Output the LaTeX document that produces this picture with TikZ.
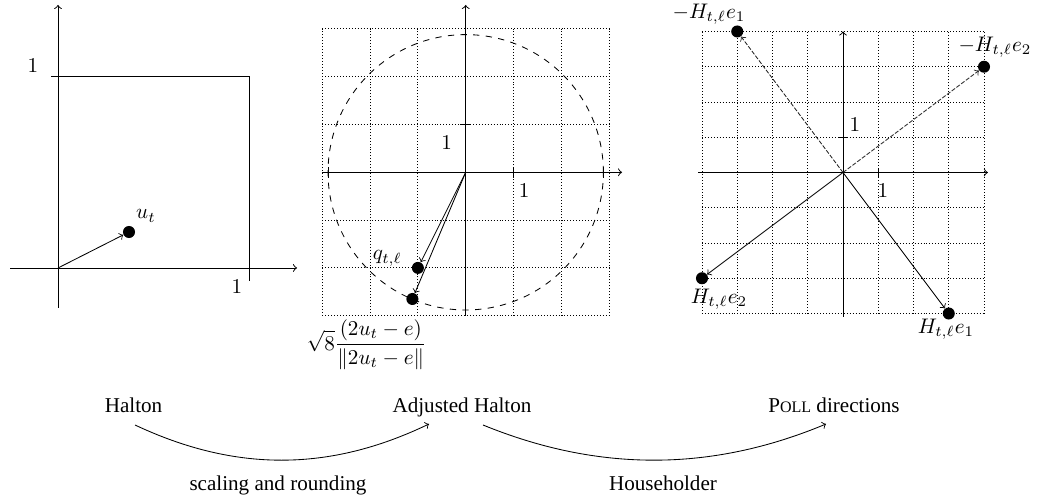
\documentclass[tikz,border=0pt]{standalone}
\usepackage[no-math]{fontspec}
\setmainfont{Liberation Serif}
\begin{document}
\begin{tikzpicture}[x=0.474pt,y=-0.474pt,
  dot/.style={circle,fill=black,inner sep=0pt,minimum size=5.7pt},
  axis/.style={->,line width=0.45pt},
  grd/.style={densely dotted,line width=0.4pt},
  lbl/.style={inner sep=0pt},
  vec/.style={->,line width=0.4pt},
  negvec/.style={->,line width=0.4pt,dash pattern=on 2pt off 0.8pt,black!85},
  txt/.style={inner sep=0pt,anchor=base}]
\useasboundingbox (0,0) rectangle (1041,500);

% ---------- left panel ----------
\coordinate (O1) at (58,268);
\draw[axis] (58,308) -- (58,5);
\draw[axis] (10,268) -- (297,268);
\draw (51,76) -- (249,76) -- (249,281);
\node[lbl] (l1y) at (33,66) {$1$};
\node[lbl] (l1x) at (237,287) {$1$};
\node[dot] (ut) at (129,232) {};
\node[lbl] (utl) at (146,216) {$u_t$};
\draw[vec] (O1) -- (ut);

% ---------- middle panel ----------
\coordinate (C2) at (465.7,172.3);
\begin{scope}[shift={(C2)},x=22.66pt,y=22.66pt]
  \coordinate (O2) at (0,0);
  \draw[grd,step=22.66pt] (-3,-3) grid (3,3);
  \draw[dashed,line width=0.4pt] (0,0) circle (2.88);
  \draw[axis] (-3,0) -- (3.27,0);
  \draw[axis] (0,-2.98) -- (0,3.5);
  \draw (1,-0.11) -- (1,0.11);
  \draw (2.88,-0.11) -- (2.88,0.11);
  \draw (-2.88,-0.11) -- (-2.88,0.11);
  \draw (-0.12,1) -- (0.12,1);
  \node[lbl] (m1y) at (-0.40,0.62) {$1$};
  \node[lbl] (m1x) at (1.22,-0.39) {$1$};
  \node[dot] (q) at (-1,-2) {};
  \node[dot] (p) at (-1.115,-2.65) {};
  \node[lbl] (ql) at (-1.64,-1.80) {$q_{t,\ell}$};
  \node[lbl] (pl) at (-2.07,-3.61) {$\displaystyle\sqrt{8}\frac{(2u_t-e)}{\|2u_t-e\|}$};
  \draw[vec] (O2) -- (q);
  \draw[vec] (O2) -- (p);
\end{scope}

% ---------- right panel ----------
\coordinate (C3) at (843,172.5);
\begin{scope}[shift={(C3)},x=16.71pt,y=16.71pt]
  \coordinate (O3) at (0,0);
  \draw[grd,step=16.71pt] (-4,-4) grid (4,4);
  \draw[axis] (-4.11,0) -- (4.11,0);
  \draw[axis] (0,-4.09) -- (0,4.0);
  \draw (1,-0.13) -- (1,0.13);
  \draw (-0.13,1) -- (0.13,1);
  \node[lbl] (r1y) at (0.34,1.35) {$1$};
  \node[lbl] (r1x) at (1.13,-0.52) {$1$};
  \node[dot] (nhe1) at (-3,4) {};
  \node[dot] (nhe2) at (4,3) {};
  \node[dot] (he2) at (-4,-3) {};
  \node[dot] (he1) at (3,-4) {};
  \node[lbl] (nhe1l) at (-3.80,4.48) {$-H_{t,\ell}e_1$};
  \node[lbl] (nhe2l) at (4.31,3.56) {$-H_{t,\ell}e_2$};
  \node[lbl] (he2l) at (-3.52,-3.59) {$H_{t,\ell}e_2$};
  \node[lbl] (he1l) at (2.92,-4.44) {$H_{t,\ell}e_1$};
  \draw[negvec] (O3) -- (nhe1);
  \draw[negvec] (O3) -- (nhe2);
  \draw[vec] (O3) -- (he2);
  \draw[vec] (O3) -- (he1);
\end{scope}

% ---------- bottom row ----------
\node[txt] (halton) at (133.5,413) {Halton};
\node[txt] (adj) at (462,413) {Adjusted Halton};
\node[txt] (poll) at (834,413) {P{\fontsize{7.6}{9}\selectfont OLL} directions};
\node[txt] (sr) at (278,491) {scaling and rounding};
\node[txt] (hh) at (663,491) {Householder};
\coordinate (a1s) at (135,425);
\coordinate (a1e) at (429,424);
\coordinate (a2s) at (483,425);
\coordinate (a2e) at (826,424);
\draw[vec] (a1s) .. controls (235,472) and (329,472) .. (a1e);
\draw[vec] (a2s) .. controls (598,472) and (711,472) .. (a2e);
\end{tikzpicture}
\end{document}
